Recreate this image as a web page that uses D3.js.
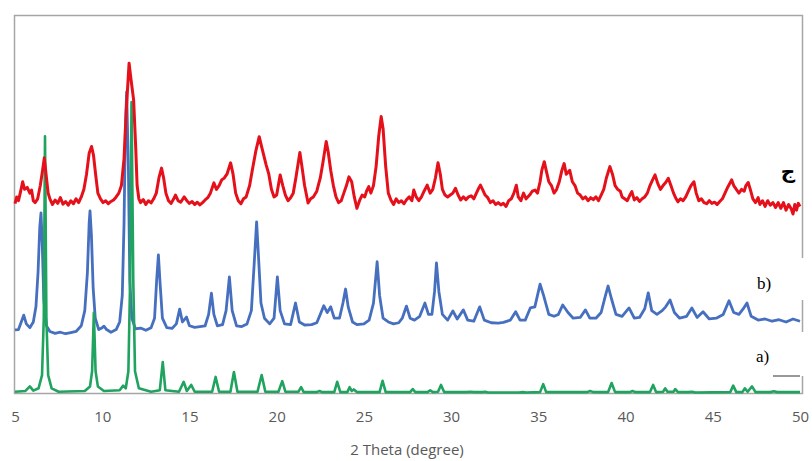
<!DOCTYPE html>
<html>
<head>
<meta charset="utf-8">
<script src="https://cdn.jsdelivr.net/npm/d3@7"></script>
<style>
  html, body { margin: 0; padding: 0; background: #fff; }
  svg { display: block; }
</style>
</head>
<body>
<svg id="chart"></svg>
<script>
// 2 theta tick labels
const tickLabels = [5, 10, 15, 20, 25, 30, 35, 40, 45, 50]

// a) green pattern  [2theta, intensity]
const patternA = [
  [5.0,0.6],[5.6,0.8],[5.85,2.0],[6.05,0.9],[6.35,1.5],[6.55,5],[6.65,20],[6.72,68],[6.8,20],[6.9,5],[7.1,1.5],[7.5,0.6],
  [9.0,0.8],[9.3,2],[9.42,6],[9.52,21.4],[9.62,6],[9.75,2],[10.1,0.8],[11.0,1.0],[11.2,2.2],[11.35,1.5],[11.5,6],[11.6,30],
  [11.68,77],[11.78,30],[11.88,6],[12.1,1.5],[12.8,0.6],[13.3,1.0],[13.47,8.4],[13.62,1.0],[14.4,0.6],[14.67,3.2],[14.85,0.8],
  [15.1,2.4],[15.3,0.6],[16.3,0.6],[16.5,4.5],[16.7,0.6],[17.35,0.6],[17.55,5.8],[17.75,0.6],[18.9,0.6],[19.14,5.0],[19.35,0.6],
  [20.1,0.6],[20.32,3.4],[20.5,0.6],[21.25,0.6],[21.4,1.8],[21.55,0.5],[22.3,0.5],[22.46,0.8],[22.6,0.5],[23.3,0.5],[23.47,3.2],
  [23.65,0.5],[24.05,0.5],[24.18,1.8],[24.3,0.8],[24.42,1.2],[24.6,0.5],[25.9,0.5],[26.07,3.5],[26.25,0.5],[27.65,0.5],[27.8,1.3],
  [27.95,0.5],[28.65,0.5],[28.8,1.0],[28.95,0.5],[29.25,0.6],[29.42,2.4],[29.6,0.5],[30.9,0.5],[31.1,0.6],[31.3,0.5],[31.8,0.5],
  [31.96,0.6],[32.1,0.4],[33.9,0.4],[34.1,0.5],[34.3,0.4],[35.1,0.5],[35.28,2.6],[35.45,0.5],[37.8,0.5],[37.97,0.8],[38.15,0.5],
  [39.0,0.5],[39.2,2.9],[39.4,0.5],[40.25,0.5],[40.4,0.8],[40.55,0.5],[41.4,0.5],[41.58,2.4],[41.75,0.5],[42.15,0.6],[42.27,1.5],
  [42.4,0.6],[42.75,0.6],[42.85,1.3],[43.0,0.5],[43.6,0.5],[43.8,0.6],[44.0,0.4],[46.0,0.5],[46.17,2.2],[46.35,0.5],[46.7,0.5],
  [46.84,1.5],[47.0,0.6],[47.25,2.0],[47.45,0.5],[48.3,0.5],[48.5,0.7],[48.7,0.5],[50,0.5]
]

// b) blue pattern
const patternB = [
  [5.0,16.9],[5.2,17.0],[5.4,19.5],[5.5,20.8],[5.65,18.5],[5.85,17.5],[6.05,19],[6.2,23],[6.32,32],[6.42,44],[6.49,47.8],[6.56,40],
  [6.65,25],[6.8,18],[7.0,16.5],[7.3,16],[7.6,16.3],[7.9,15.9],[8.2,16.2],[8.5,16.5],[8.8,18],[9.0,22],[9.15,32],[9.25,45],[9.3,48.3],
  [9.38,42],[9.48,28],[9.6,20],[9.8,17],[10.0,17.5],[10.1,17.9],[10.25,17],[10.5,16.3],[10.8,17],[11.0,19],[11.15,26],[11.25,45],
  [11.33,70],[11.4,79.7],[11.5,60],[11.58,30],[11.7,20],[11.9,17.2],[12.2,17.4],[12.5,16.8],[12.8,17.5],[13.0,20],[13.12,30],
  [13.22,36.7],[13.32,29],[13.45,20],[13.7,17.5],[14.0,17.3],[14.25,18.5],[14.44,22.4],[14.6,19],[14.83,20.3],[15.0,18],[15.3,17.6],
  [15.6,17.8],[15.9,18],[16.1,21],[16.26,26.6],[16.4,21],[16.6,18],[16.9,18.3],[17.1,22],[17.29,30.9],[17.45,22],[17.7,18],[18.0,17.8],
  [18.3,18.5],[18.55,22],[18.72,35],[18.85,45.4],[18.95,37],[19.1,24],[19.3,20],[19.6,18.5],[19.85,20],[20.04,30.9],[20.2,22],
  [20.45,18.5],[20.8,18.3],[21.08,24],[21.3,19],[21.6,18.2],[22.0,18.3],[22.3,18.8],[22.5,21],[22.7,23.3],[22.9,21.5],[23.1,23],
  [23.3,20],[23.6,20],[23.8,24],[23.95,27.7],[24.1,23],[24.35,19],[24.6,18.3],[25.0,18.5],[25.3,19.5],[25.55,24],[25.76,34.9],
  [25.9,26],[26.1,20],[26.4,19],[26.7,18.5],[27.0,18.8],[27.2,20],[27.44,23.2],[27.65,20],[27.9,19.5],[28.2,20.5],[28.5,24],
  [28.7,21],[28.9,21],[29.05,27],[29.16,34.6],[29.3,27],[29.5,21],[29.8,19.5],[30.1,21.9],[30.35,19.8],[30.7,22.2],[30.95,19.5],
  [31.3,19.2],[31.64,23],[31.9,19.5],[32.3,18.8],[32.7,18.7],[33.0,18.9],[33.4,19.5],[33.7,21.7],[33.95,19.5],[34.25,19.5],
  [34.54,22.7],[34.8,23],[35.1,29],[35.3,26],[35.6,21],[35.9,20.5],[36.15,21],[36.4,23.5],[36.7,21.5],[37.0,20],[37.4,20.2],
  [37.7,22.2],[37.95,20],[38.3,20],[38.6,21.5],[38.85,26],[39.0,28.5],[39.2,25],[39.45,21],[39.8,20.5],[40.2,22.7],[40.5,20],
  [40.8,20.2],[41.1,22.5],[41.3,26.7],[41.5,22],[41.8,21],[42.1,22],[42.3,23],[42.55,24.8],[42.8,21.5],[43.1,20],[43.5,20.5],
  [43.8,22.7],[44.1,20.2],[44.44,21.7],[44.8,19.8],[45.2,20],[45.6,21],[45.93,24.6],[46.2,21.5],[46.5,21],[46.75,22.5],[46.96,24],
  [47.2,20.5],[47.6,19.5],[48.0,19.8],[48.4,19.2],[48.8,19.6],[49.2,19],[49.6,19.8],[50.0,19.2]
]

// c) red pattern
const patternC = [
  [5.0,50.2],[5.1,52],[5.2,51],[5.3,53],[5.44,56],[5.55,54],[5.7,54.5],[5.85,53],[5.95,53.8],[6.05,51],[6.15,50.5],[6.3,51.5],
  [6.45,55],[6.58,59],[6.68,62.3],[6.78,58],[6.9,53],[7.0,51.5],[7.15,50],[7.3,51.2],[7.45,50.3],[7.6,51.8],[7.75,50.1],[7.9,50.8],
  [8.05,49.8],[8.2,51],[8.35,50.2],[8.5,51.5],[8.65,50.5],[8.8,52],[8.95,54],[9.1,58],[9.25,63.5],[9.39,65.3],[9.5,63],[9.62,58],
  [9.75,53],[9.9,51.5],[10.05,50.5],[10.2,51],[10.35,50.2],[10.5,50.8],[10.65,51.2],[10.8,52],[10.95,53],[11.1,55],[11.25,62],
  [11.38,75],[11.54,87.3],[11.65,83],[11.8,77.6],[11.92,65],[12.0,55],[12.1,51.5],[12.2,50.5],[12.35,51.3],[12.5,50],[12.65,51],
  [12.8,50.4],[12.95,51.5],[13.1,53],[13.25,57],[13.4,59.6],[13.52,57],[13.65,53],[13.8,51],[13.95,50.3],[14.1,51.5],[14.2,52.5],
  [14.35,51],[14.5,50.6],[14.7,52],[14.85,51],[15.0,50.3],[15.15,50.8],[15.3,50],[15.45,50.6],[15.6,49.9],[15.75,50.5],[15.9,51.2],
  [16.05,51.8],[16.2,53],[16.4,55.7],[16.55,54],[16.7,55],[16.85,56.5],[17.0,57],[17.15,58],[17.36,61],[17.5,58],[17.65,53],[17.8,51],
  [17.95,50.2],[18.1,51.5],[18.25,52],[18.45,55],[18.6,59],[18.8,64],[19.0,67.9],[19.15,65],[19.4,60.4],[19.55,58],[19.7,54],
  [19.85,52],[20.0,52.5],[20.2,57.8],[20.35,55],[20.5,52.5],[20.65,51],[20.8,51.8],[20.95,53],[21.1,57],[21.33,63.7],[21.45,60],
  [21.6,55],[21.8,50.4],[21.95,51.5],[22.1,52],[22.3,53.5],[22.5,57],[22.65,61],[22.84,66.6],[22.95,64],[23.1,59],[23.25,55],
  [23.4,52],[23.55,50.5],[23.7,51],[23.85,53],[24.0,55],[24.14,57.3],[24.3,56],[24.45,52],[24.6,49],[24.75,51],[24.9,52.5],
  [25.05,52],[25.15,53.5],[25.28,54.7],[25.4,53],[25.55,55],[25.7,60],[25.85,68],[25.99,73.2],[26.1,70],[26.25,60],[26.4,53],
  [26.55,51.2],[26.7,50],[26.85,51.5],[27.0,50.5],[27.15,51],[27.3,50.2],[27.45,51.3],[27.6,52],[27.75,51],[27.86,53.8],[28.0,52],
  [28.15,51],[28.3,52],[28.45,53.5],[28.63,55.1],[28.8,53],[28.95,54],[29.1,57],[29.25,61],[29.38,58],[29.5,54],[29.65,52.5],
  [29.8,52],[29.95,52.5],[30.1,53],[30.25,54.3],[30.4,52.5],[30.55,51.2],[30.7,52],[30.85,51.3],[31.0,52],[31.15,52.3],[31.3,51.5],
  [31.45,53],[31.55,54],[31.68,55.1],[31.8,54],[31.95,52.5],[32.1,51.8],[32.25,50.5],[32.4,51],[32.55,50],[32.7,50.5],[32.85,49.9],
  [33.0,50.3],[33.15,49.5],[33.3,51],[33.45,51.5],[33.6,53],[33.74,55.1],[33.85,52],[34.0,51],[34.15,53],[34.3,51.5],[34.5,52.5],
  [34.65,53.5],[34.82,53.8],[34.95,53],[35.1,56],[35.2,59],[35.34,61.3],[35.45,59],[35.6,56],[35.75,55],[35.9,53],[36.05,54],
  [36.2,56],[36.35,59],[36.48,60.8],[36.6,58],[36.8,59],[36.95,56],[37.1,55],[37.25,53],[37.4,52.5],[37.55,51.5],[37.7,52],
  [37.85,51],[38.0,51.8],[38.15,51.3],[38.3,52],[38.45,51],[38.6,52.5],[38.75,54],[38.9,57],[39.1,60],[39.25,58],[39.4,55],
  [39.55,54],[39.7,53.5],[39.8,52],[39.95,51.5],[40.1,51],[40.25,52.5],[40.36,53.4],[40.5,51.2],[40.65,51.8],[40.8,50.8],[40.95,51.5],
  [41.1,52],[41.25,53],[41.4,55],[41.55,56.5],[41.69,57.8],[41.85,55.5],[42.0,54],[42.15,55],[42.3,55.8],[42.45,56.9],[42.6,55],
  [42.75,53],[42.9,51.5],[43.0,50.7],[43.15,51.5],[43.3,51],[43.45,52],[43.6,53.5],[43.75,55],[43.92,56],[44.05,53],[44.2,51],
  [44.35,51.5],[44.5,50.5],[44.65,50.2],[44.8,51],[44.95,50.3],[45.1,50.6],[45.25,50],[45.4,50.8],[45.55,51.5],[45.7,53],[45.85,54.5],
  [46.08,56.5],[46.2,55],[46.35,54],[46.5,53],[46.65,54],[46.8,53.5],[46.9,55],[47.03,55.8],[47.15,54],[47.3,51.5],[47.45,50.5],
  [47.6,51.8],[47.7,50],[47.85,51],[48.0,49.5],[48.15,51],[48.3,49.8],[48.45,50.5],[48.6,49.2],[48.75,50.5],[48.9,49],[49.05,50.5],
  [49.2,48.5],[49.35,50],[49.5,48.8],[49.6,47.5],[49.7,50],[49.8,48.5],[49.9,50.3],[50.0,49.5]
]

const seriesLabels = ['a)', 'b)', 'ج']
const xTitle = '2 Theta (degree)'

const draw = () => {

    const width = 812
    const height = 461

    const svg = d3.select('#chart')
        .attr('width', width)
        .attr('height', height)

    const x = d3.scaleLinear().domain([5, 50]).range([15, 800])
    const y = d3.scaleLinear().domain([0, 100]).range([394, 15])

    // plot frame
    svg.append('rect')
        .attr('x', 14.5).attr('y', 15.5)
        .attr('width', 788).attr('height', 378)
        .attr('fill', 'none')
        .attr('stroke', '#a6a6a6')
        .attr('stroke-width', 1.5)

    const line = d3.line()
        .x(d => x(d[0]))
        .y(d => y(d[1]))

    const traces = [
        { data : patternB, color : '#4670bf', w : 2.8 },
        { data : patternA, color : '#1fa35e', w : 2.6 },
        { data : patternC, color : '#e5101a', w : 3 }
    ]

    svg.selectAll('path.trace')
        .data(traces)
        .enter()
        .append('path')
        .attr('class', 'trace')
        .attr('d', d => line(d.data))
        .attr('fill', 'none')
        .attr('stroke', d => d.color)
        .attr('stroke-width', d => d.w)
        .attr('stroke-linejoin', 'round')

    // x axis labels only
    const axis = svg.append('g')
        .attr('transform', 'translate(0,394)')
        .call(d3.axisBottom(x).tickValues(tickLabels).tickSize(0).tickPadding(17))

    axis.select('.domain').remove()
    axis.selectAll('text')
        .attr('fill', '#595959')
        .style('font-family', '"Open Sans", sans-serif')
        .style('font-size', '15px')

    svg.append('text')
        .attr('x', 407)
        .attr('y', 455)
        .attr('text-anchor', 'middle')
        .attr('fill', '#595959')
        .style('font-family', '"Open Sans", sans-serif')
        .style('font-size', '15px')
        .text(xTitle)

    // label boxes
    svg.append('rect').attr('x', 745).attr('y', 258).attr('width', 63).attr('height', 42).attr('fill', '#fff')
    svg.append('rect').attr('x', 745).attr('y', 332).attr('width', 63).attr('height', 44).attr('fill', '#fff')
    svg.append('line')
        .attr('x1', 773).attr('x2', 800).attr('y1', 376).attr('y2', 376)
        .attr('stroke', '#333').attr('stroke-width', 1)

    svg.append('text')
        .attr('x', 757).attr('y', 289)
        .style('font-family', '"Liberation Serif", serif')
        .style('font-size', '17px')
        .text(seriesLabels[1])

    svg.append('text')
        .attr('x', 756).attr('y', 362)
        .style('font-family', '"Liberation Serif", serif')
        .style('font-size', '17px')
        .text(seriesLabels[0])

    svg.append('text')
        .attr('x', 788).attr('y', 178)
        .attr('text-anchor', 'middle')
        .style('font-family', '"DejaVu Sans", sans-serif')
        .style('font-weight', 'bold')
        .style('font-size', '20px')
        .text(seriesLabels[2])
}

draw()
</script>
</body>
</html>
